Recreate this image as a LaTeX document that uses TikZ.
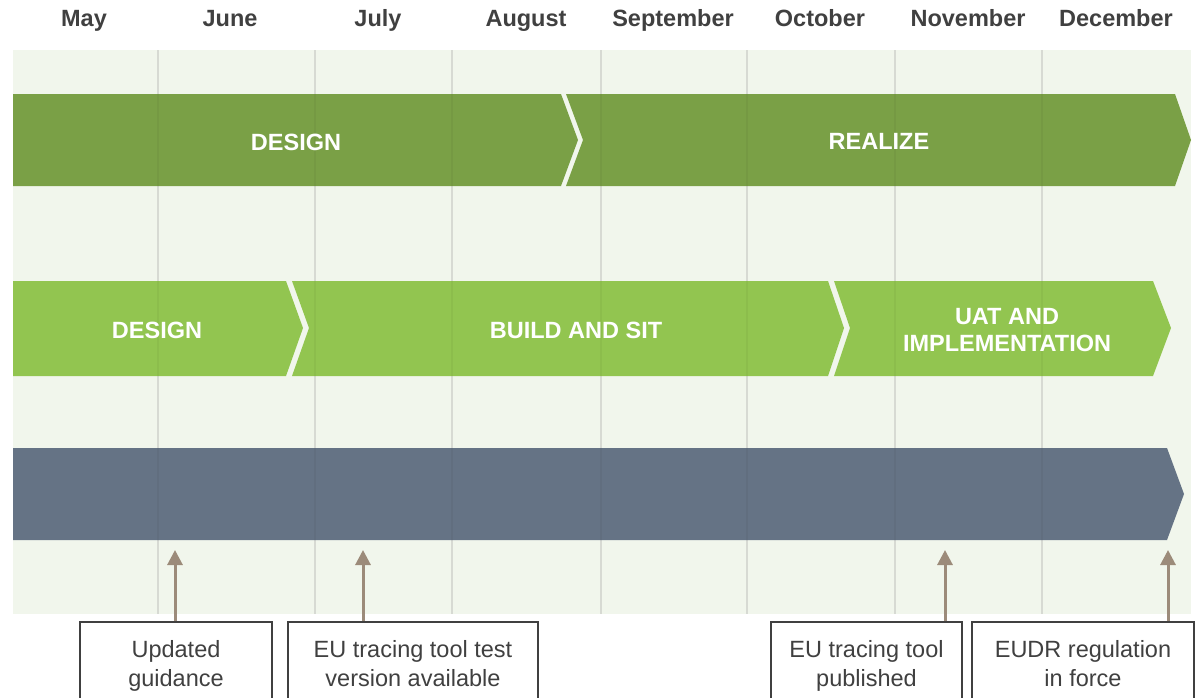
\documentclass[tikz,border=0pt]{standalone}
\usepackage{fontspec}
\setmainfont{Liberation Sans}
\usetikzlibrary{arrows.meta}
\definecolor{bgpanel}{HTML}{F1F6EC}
\definecolor{darkgreen}{HTML}{7AA046}
\definecolor{lightgreen}{HTML}{92C550}
\definecolor{slate}{HTML}{657385}
\definecolor{arrowbrown}{HTML}{9C8B7A}
\definecolor{txtgray}{HTML}{404040}
\definecolor{gridgray}{HTML}{E0E3DC}
\tikzset{
  month/.style={anchor=base, text=txtgray, font=\fontsize{23.5}{28}\selectfont\bfseries, inner sep=0pt},
  phase/.style={text=white, font=\fontsize{23.5}{27}\selectfont\bfseries, align=center, inner sep=0pt},
  gridline/.style={gridgray, line width=2pt},
  gridover/.style={black, opacity=0.04, line width=2pt},
  notebox/.style={draw=txtgray, line width=2pt, fill=white, text=txtgray, align=center,
    font=\fontsize{23.5}{29}\selectfont, minimum height=82pt, inner sep=0pt, anchor=north, text depth=0pt},
  marker/.style={arrowbrown, line width=3pt, -{Triangle[width=15pt,length=15pt]}}
}
\begin{document}
\begin{tikzpicture}[x=1pt,y=-1pt]
\useasboundingbox (0,0) rectangle (1196,697);
\clip (0,0) rectangle (1196,697);
% background panel
\fill[bgpanel] (13,50) rectangle (1191,614);
% grid lines on the panel
\foreach \gx in {158,315,452,601,747,895,1042}
  \draw[gridline] (\gx,50) -- (\gx,614);
% month labels
\node[month] (m1) at (84,26) {May};
\node[month] (m2) at (230,26) {June};
\node[month] (m3) at (378,26) {July};
\node[month] (m4) at (526,26) {August};
\node[month] (m5) at (673,26) {September};
\node[month] (m6) at (820,26) {October};
\node[month] (m7) at (968,26) {November};
\node[month] (m8) at (1116,26) {December};
% row 1
\fill[darkgreen] (13,94) -- (561,94) -- (578,140) -- (561,186) -- (13,186) -- cycle;
\fill[darkgreen] (566,94) -- (1175,94) -- (1191,140) -- (1175,186) -- (566,186) -- (583,140) -- cycle;
% row 2
\fill[lightgreen] (13,281) -- (286,281) -- (303,328) -- (286,376) -- (13,376) -- cycle;
\fill[lightgreen] (292,281) -- (828,281) -- (844,328) -- (828,376) -- (292,376) -- (309,328) -- cycle;
\fill[lightgreen] (834,281) -- (1153,281) -- (1171,328) -- (1153,376) -- (834,376) -- (850,328) -- cycle;
% row 3
\fill[slate] (13,448) -- (1167,448) -- (1184,494) -- (1167,540) -- (13,540) -- cycle;
% faint grid lines over the bars
\foreach \gx in {158,315,452,601,747,895,1042}
  \draw[gridover] (\gx,50) -- (\gx,614);
% phase labels
\node[phase] (p1) at (296,142) {DESIGN};
\node[phase] (p2) at (879,141) {REALIZE};
\node[phase] (p3) at (157,330) {DESIGN};
\node[phase] (p4) at (576,330) {BUILD AND SIT};
\node[phase] (p5) at (1007,330) {UAT AND\\IMPLEMENTATION};
% note boxes
\node[notebox, minimum width=192pt] (b1) at (176,621) {Updated\\guidance};
\node[notebox, minimum width=250pt] (b2) at (413,621) {EU tracing tool test\\version available};
\node[notebox, minimum width=191pt] (b3) at (866.5,621) {EU tracing tool\\published};
\node[notebox, minimum width=222pt] (b4) at (1083,621) {EUDR regulation\\in force};
% arrow targets
\coordinate (t1) at (175,550);
\coordinate (t2) at (363,550);
\coordinate (t3) at (945,550);
\coordinate (t4) at (1168,550);
\draw[marker] (b1.north -| t1) -- (t1);
\draw[marker] (b2.north -| t2) -- (t2);
\draw[marker] (b3.north -| t3) -- (t3);
\draw[marker] (b4.north -| t4) -- (t4);
\end{tikzpicture}
\end{document}
